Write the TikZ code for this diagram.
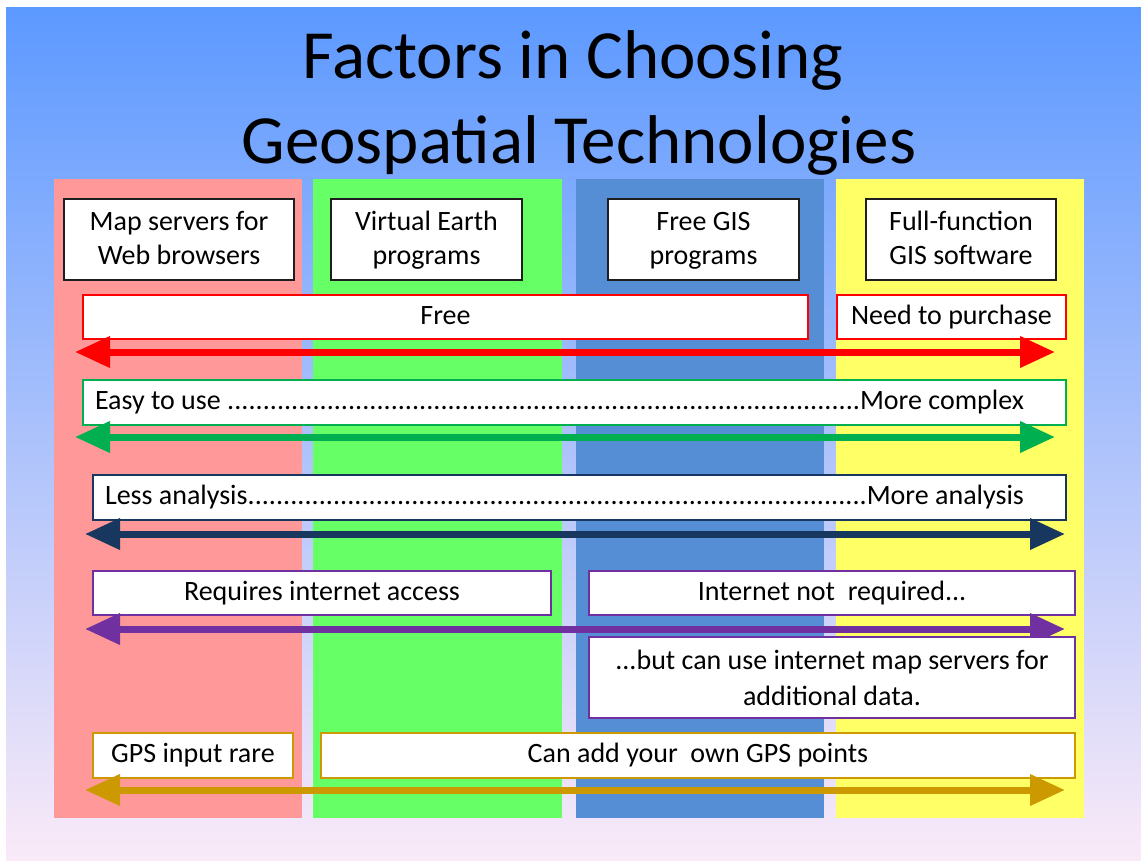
\documentclass[tikz,border=0pt]{standalone}
\usepackage{fontspec}
\setmainfont{Carlito}
\usetikzlibrary{arrows.meta}
\definecolor{bgtop}{RGB}{92,153,255}
\definecolor{bgmid}{RGB}{148,194,246}
\definecolor{bgbot}{RGB}{250,234,248}
\definecolor{colred}{RGB}{255,153,153}
\definecolor{colgreen}{RGB}{102,255,102}
\definecolor{colblue}{RGB}{85,142,213}
\definecolor{colyellow}{RGB}{255,255,102}
\definecolor{hdrborder}{RGB}{30,30,30}
\definecolor{arred}{RGB}{255,0,0}
\definecolor{argreen}{RGB}{0,176,80}
\definecolor{arnavy}{RGB}{23,55,94}
\definecolor{arpurple}{RGB}{112,48,160}
\definecolor{argold}{RGB}{204,153,0}
\newcommand{\topstrut}{\rule{0pt}{24pt}}
\newcommand{\botstrut}{\rule[-8pt]{0pt}{8pt}}
\tikzset{
  column/.style={fill=#1, draw=none},
  hdrbox/.style={draw=hdrborder, line width=2.5pt, fill=white, inner sep=0pt, align=center,
    font=\fontsize{28}{34}\selectfont, minimum height=81pt},
  rowbox/.style={draw=#1, line width=2pt, fill=white, inner sep=0pt,
    font=\fontsize{28}{34}\selectfont, text height=20pt, text depth=6pt, minimum height=44pt},
  tallbox/.style={draw=#1, line width=2pt, fill=white, inner sep=0pt, align=center,
    font=\fontsize{28}{36}\selectfont, minimum height=81pt},
  dblarrow/.style={draw=#1, line width=7pt, {Triangle[length=35pt,width=30pt]}-{Triangle[length=35pt,width=30pt]}},
  titletext/.style={font=\fontsize{69}{85}\selectfont, anchor=base}
}
\begin{document}
\begin{tikzpicture}[x=1pt,y=-1pt]
\useasboundingbox (0,0) rectangle (1141,860);
\fill[white] (0,0) rectangle (1141,860);
\shade[top color=bgtop, middle color=bgmid, bottom color=bgbot] (6,7) rectangle (1141,860);

% columns
\path[column=colred]    (54,179)  rectangle (302,818);
\path[column=colgreen]  (313,179) rectangle (562,818);
\path[column=colblue]   (576,179) rectangle (824,818);
\path[column=colyellow] (836,179) rectangle (1084,818);

% title
\node[titletext] (title1) at (573,78) {Factors in Choosing};
\node[titletext] (title2) at (579,163) {Geospatial Technologies};

% headers
\node[hdrbox, minimum width=230pt] (h1) at (179,239.5) {\topstrut Map servers for\\Web browsers\botstrut};
\node[hdrbox, minimum width=191pt] (h2) at (426.5,239.5) {\topstrut Virtual Earth\\programs\botstrut};
\node[hdrbox, minimum width=191pt] (h3) at (703.5,239.5) {\topstrut Free GIS\\programs\botstrut};
\node[hdrbox, minimum width=190pt] (h4) at (961,239.5) {\topstrut Full-function\\GIS software\botstrut};

% row 1: cost
\node[rowbox=arred, minimum width=725pt] (free) at (445.5,317) {Free};
\node[rowbox=arred, minimum width=229pt] (need) at (951.5,317) {Need to purchase};
\coordinate (r1a) at (75,352);
\coordinate (r1b) at (1055,352);
\draw[dblarrow=arred] (r1a) -- (r1b);

% row 2: ease
\node[rowbox=argreen, minimum width=983pt, minimum height=45pt] (easy) at (574.5,402.5)
  {\hbox to 983pt{\hskip12pt Easy to use \xleaders\hbox{.}\hfill More complex\hskip41pt}};
\coordinate (r2a) at (75,437);
\coordinate (r2b) at (1055,437);
\draw[dblarrow=argreen] (r2a) -- (r2b);

% row 3: analysis
\node[rowbox=arnavy, minimum width=973pt, minimum height=45pt] (analysis) at (579.5,497.5)
  {\hbox to 973pt{\hskip12pt Less analysis\xleaders\hbox{.}\hfill More analysis\hskip41pt}};
\coordinate (r3a) at (85,534);
\coordinate (r3b) at (1065,534);
\draw[dblarrow=arnavy] (r3a) -- (r3b);

% row 4: internet
\node[rowbox=arpurple, minimum width=458pt] (req) at (322,593) {Requires internet access};
\node[rowbox=arpurple, minimum width=486pt] (notreq) at (832,593) {Internet not\ \ required...};
\coordinate (r4a) at (85,629);
\coordinate (r4b) at (1065,629);
\draw[dblarrow=arpurple] (r4a) -- (r4b);
\node[tallbox=arpurple, minimum width=486pt] (but) at (832,677.5)
  {...but can use internet map servers for\\additional data.};

% row 5: GPS
\node[rowbox=argold, minimum width=200pt, minimum height=45pt] (gps) at (193,755.5) {GPS input rare};
\node[rowbox=argold, minimum width=754pt, minimum height=45pt] (own) at (698,755.5) {Can add your\ \ own GPS points};
\coordinate (r5a) at (85,790);
\coordinate (r5b) at (1065,790);
\draw[dblarrow=argold] (r5a) -- (r5b);
\end{tikzpicture}
\end{document}
